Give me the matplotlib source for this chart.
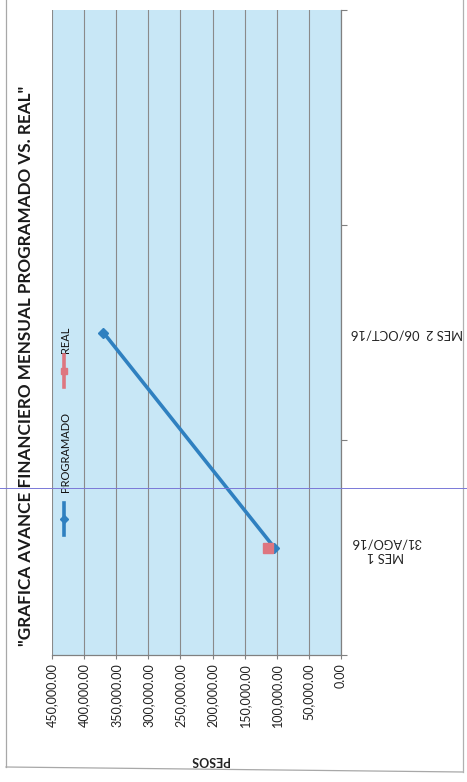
import matplotlib
matplotlib.use("Agg")
import matplotlib.pyplot as plt
from matplotlib.lines import Line2D
from matplotlib.ticker import FuncFormatter, FixedLocator

plt.rcParams['font.family'] = ['Lato', 'DejaVu Sans']

# ---- data ----
categories = ["MES 1\n31/AGO/16", "MES 2  06/OCT/16", ""]
programado = [104000, 370000]
real = [113000]
value_ticks = [0, 50000, 100000, 150000, 200000, 250000, 300000, 350000, 400000, 450000]
title = "\"GRAFICA AVANCE FINANCIERO MENSUAL PROGRAMADO VS. REAL\""
value_label = "PESOS"
series_names = ["PROGRAMADO", "REAL"]

W, H = 467, 782
fig = plt.figure(figsize=(W / 100, H / 100), dpi=100)
fig.patch.set_facecolor('white')

L, R, T, B = 52, 341, 10, 655
ax = fig.add_axes([L / W, 1 - B / H, (R - L) / W, (B - T) / H])
ax.set_facecolor('#c8e7f6')

blue = '#2f80c0'
red = '#de7680'

# value axis horizontal (inverted), category axis vertical
idx_p = list(range(len(programado)))
idx_r = list(range(len(real)))
ax.plot(programado, idx_p, color=blue, lw=2.6, marker='D', ms=5, zorder=3)
ax.plot(real, idx_r, color=red, lw=2.6, marker='s', ms=7, ls='none', zorder=4)

ax.set_xlim(max(value_ticks), 0)
ax.set_ylim(-0.5, len(categories) - 0.5)

ax.set_xticks(value_ticks)
ax.xaxis.set_major_formatter(FuncFormatter(lambda v, p: f"{v:,.2f}"))
ax.tick_params(axis='x', direction='out', length=3, width=0.8, color='#808080',
               labelsize=9, labelrotation=90, pad=3, labelcolor='#222222')
ax.grid(axis='x', color='#8a8a8a', lw=0.8)
ax.set_axisbelow(True)

ax.yaxis.tick_right()
ax.set_yticks(range(len(categories)))
ax.set_yticklabels(categories, rotation=180, multialignment='center')
ax.yaxis.set_minor_locator(FixedLocator([i - 0.5 for i in range(len(categories) + 1)]))
ax.tick_params(axis='y', which='major', length=0, pad=7, labelsize=9.3, labelcolor='#222222')
ax.tick_params(axis='y', which='minor', direction='out', length=4, width=0.8, color='#808080')

for s in ['left', 'top']:
    ax.spines[s].set_visible(False)
for s in ['right', 'bottom']:
    ax.spines[s].set_color('#808080')
    ax.spines[s].set_linewidth(0.9)

ax.set_xlabel(value_label, rotation=180, fontsize=9, fontweight='bold', color='#222222')
ax.xaxis.label.set_va('center')
ax.xaxis.set_label_coords(0.547, -0.163)

# rotated legend (manual)
lx = 0.041
ax.add_line(Line2D([lx, lx], [0.186, 0.2357], transform=ax.transAxes, color=blue, lw=2.6, zorder=5))
ax.plot([lx], [0.211], transform=ax.transAxes, color=blue, marker='D', ms=4, zorder=6)
ax.text(lx + 0.006, 0.252, series_names[0], transform=ax.transAxes, rotation=90,
        ha='center', va='bottom', fontsize=8, color='#111111')
ax.add_line(Line2D([lx, lx], [0.4155, 0.465], transform=ax.transAxes, color=red, lw=2.6, zorder=5))
ax.plot([lx], [0.44], transform=ax.transAxes, color=red, marker='s', ms=5, zorder=6)
ax.text(lx + 0.006, 0.468, series_names[1], transform=ax.transAxes, rotation=90,
        ha='center', va='bottom', fontsize=8, color='#111111')

# title (rotated)
fig.text(26 / W, 1 - 366 / H, title, rotation=90, ha='center', va='center',
         fontsize=12.3, fontweight='bold', color='#1a1a1a')

# page frame and scan line
fig.add_artist(Line2D([6 / W, 6 / W], [1, 1 - 767 / H], transform=fig.transFigure, color='#a8a8a8', lw=0.9))
fig.add_artist(Line2D([6 / W, 463 / W], [1 - 767 / H, 1 - 772 / H], transform=fig.transFigure, color='#a8a8a8', lw=0.9))
fig.add_artist(Line2D([463 / W, 463 / W], [1, 1 - 772 / H], transform=fig.transFigure, color='#b0b0b0', lw=0.9))
fig.add_artist(Line2D([0, 1], [1 - 488 / H, 1 - 488 / H], transform=fig.transFigure, color='#7a78d8', lw=0.7))

fig.savefig("out.png", dpi=100)
